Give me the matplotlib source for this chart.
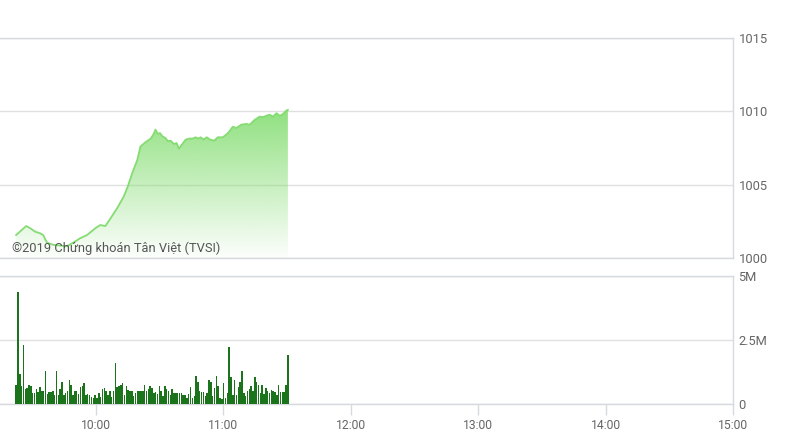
import numpy as np
import matplotlib
matplotlib.use("Agg")
import matplotlib.pyplot as plt
from matplotlib.patches import Polygon
from matplotlib.colors import to_rgb

plt.rcParams['font.family'] = ['Roboto', 'DejaVu Sans']

# price line: minutes after 9:00 and index level
price_time = [22.6, 24.4, 27.3, 29.2, 31.5, 33.9, 35.3, 37.1, 40.0, 46.5, 49.5, 52.8,
              56.0, 59.9, 62.2, 64.6, 67.0, 70.1, 73.2, 75.1, 77.2, 79.6,
              81.1, 83.5, 85.9, 87.1, 88.2, 89.3, 90.3, 91.4, 92.9, 94.0, 95.3, 96.9,
              98.1, 99.2, 100.8, 102.4, 104.0, 105.6, 107.1, 108.2, 109.5, 110.8,
              112.3, 113.9, 115.8, 117.5, 119.9, 122.2, 124.6, 126.2, 128.5, 130.9,
              132.5, 134.8, 137.2, 138.8, 140.3, 141.9, 143.5, 145.1, 146.7, 148.2,
              149.8, 150.5]
price = [1001.57, 1001.80, 1002.18, 1002.03, 1001.80, 1001.68, 1001.57, 1001.05,
         1000.90, 1000.80, 1001.05, 1001.35, 1001.57, 1002.03, 1002.25, 1002.18,
         1002.70, 1003.39, 1004.18, 1004.86, 1005.77, 1006.68,
         1007.60, 1007.90, 1008.13, 1008.40, 1008.75, 1008.46, 1008.52, 1008.30,
         1008.18, 1007.96, 1008.00, 1007.77, 1007.84, 1007.45, 1007.77, 1008.07,
         1008.14, 1008.14, 1008.23, 1008.14, 1008.23, 1008.07, 1008.23, 1008.07,
         1008.00, 1008.23, 1008.23, 1008.50, 1008.95, 1008.86, 1009.09, 1009.14,
         1009.09, 1009.41, 1009.64, 1009.60, 1009.70, 1009.77, 1009.64, 1009.87,
         1009.70, 1009.82, 1010.05, 1010.10]

# volume bars (millions), evenly spaced from first to last trade
vol_start, vol_end = 22.6, 150.5
volume = [0.74, 4.36, 1.17, 0.70, 2.30, 0.57, 0.64, 0.74, 0.70, 0.43, 0.43, 0.60,
          0.47, 0.65, 0.52, 0.52, 1.29, 0.39, 0.47, 0.47, 0.50, 0.37, 1.29, 0.37,
          0.60, 0.87, 0.37, 0.43, 0.52, 0.94, 0.74, 0.37, 0.52, 0.50, 0.39, 0.65,
          0.70, 0.82, 0.37, 0.39, 0.37, 0.26, 0.24, 0.37,
          0.24, 0.43, 0.26, 0.59, 0.63, 0.52, 0.37, 0.50, 0.26, 0.50, 1.59, 0.65,
          0.70, 0.76, 0.82, 0.37, 0.70, 0.56, 0.50, 0.50, 0.30, 0.43, 0.52, 0.50,
          0.50, 0.52, 0.76, 0.50, 0.59, 0.70, 0.63, 0.43, 0.47, 0.39, 0.72, 0.50,
          0.33, 0.70, 0.60, 0.52, 0.37, 0.59, 0.43, 0.43, 0.43, 0.43, 0.43, 0.37,
          0.37, 0.24, 0.39, 0.65, 0.24, 0.30, 1.10,
          0.87, 0.50, 0.47, 0.47, 0.30, 0.43, 0.94, 0.87, 0.30, 0.61, 1.09, 0.70,
          0.22, 0.20, 0.83, 0.22, 0.42, 2.24, 1.07, 0.35, 0.94, 0.35, 0.65, 0.87,
          1.30, 0.43, 0.33, 0.50, 0.60, 0.70, 0.50, 1.07, 0.85, 0.76, 0.43, 0.76,
          0.39, 0.63, 0.52, 0.43, 0.56, 0.50, 0.46, 0.37, 0.74, 0.47, 0.46, 0.46,
          0.76, 1.91]

hour_ticks = [60, 120, 180, 240, 300, 360]
hour_labels = ['10:00', '11:00', '12:00', '13:00', '14:00', '15:00']
price_ticks = [1000, 1005, 1010, 1015]
vol_ticks = [0, 2.5, 5]
vol_labels = ['0', '2.5M', '5M']

W, H = 794, 446
fig = plt.figure(figsize=(W / 100, H / 100), dpi=100)
grid_c = '#e0e0e0'
spine_c = '#d6d9de'
text_c = '#666666'
right = 733 / W

ax = fig.add_axes([0, 1 - 258 / H, right, 220 / H])
axv = fig.add_axes([0, 1 - 404 / H, right, 128 / H])

xmin, xmax = 15, 360
for a in (ax, axv):
    a.set_xlim(xmin, xmax)
    a.spines['left'].set_visible(False)
    for s in ('top', 'right', 'bottom'):
        a.spines[s].set_color(spine_c)
        a.spines[s].set_linewidth(1)
    a.yaxis.tick_right()
    a.tick_params(axis='y', length=0, pad=4, labelsize=9.3, labelcolor=text_c)
    a.grid(axis='y', color=grid_c, lw=1)
    a.set_axisbelow(True)

# price panel
ax.set_ylim(1000, 1015)
ax.set_yticks(price_ticks)
ax.set_xticks([])
t = np.array(price_time)
p = np.array(price)
verts = [(t[0], 1000)] + list(zip(t, p)) + [(t[-1], 1000)]
poly = Polygon(verts, closed=True, facecolor='none', edgecolor='none')
ax.add_patch(poly)
g = np.linspace(0, 1, 256)
rgba = np.zeros((256, 1, 4))
rgba[..., :3] = to_rgb('#7fdc6c')
rgba[:, 0, 3] = 0.02 + 0.85 * g
img = ax.imshow(rgba, extent=[t[0], t[-1], 1000, p.max()], origin='lower',
                aspect='auto', zorder=2)
img.set_clip_path(poly)
ax.plot(t, p, color='#84dc72', lw=1.3, zorder=3)
ax.text(12 / 733, 0.045, '©2019 Chứng khoán Tân Việt (TVSI)', transform=ax.transAxes,
        fontsize=9.3, color='#555555', va='center', ha='left', zorder=4)

# volume panel
axv.set_ylim(0, 5)
axv.set_yticks(vol_ticks)
axv.set_yticklabels(vol_labels)
vt = np.linspace(vol_start, vol_end, len(volume))
axv.bar(vt, volume, width=0.7, color='#1b731b', linewidth=0, zorder=3)
axv.set_xticks(hour_ticks)
axv.set_xticklabels(hour_labels)
axv.tick_params(axis='x', length=8, width=1, color=spine_c, pad=3,
                labelsize=8.7, labelcolor=text_c)

fig.savefig('out.png', dpi=100)
